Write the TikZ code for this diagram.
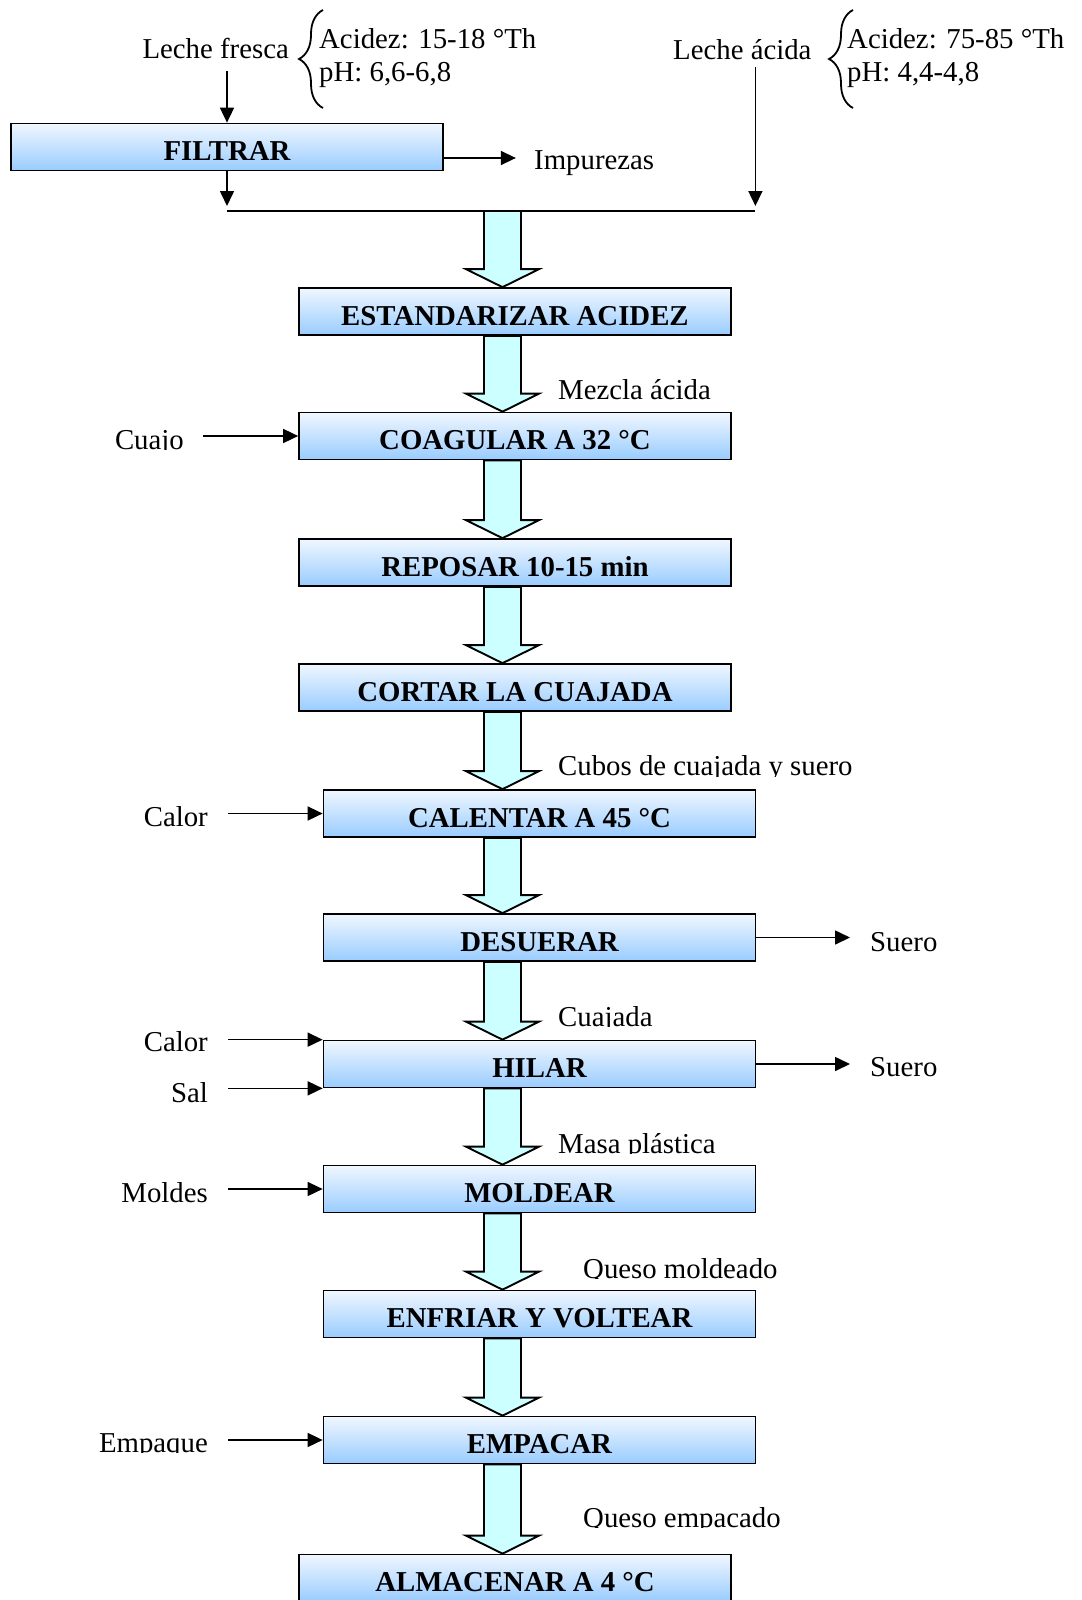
\documentclass[tikz,border=0pt]{standalone}
\usepackage{fontspec}
\setmainfont{Liberation Serif}
\usetikzlibrary{arrows.meta,calc,decorations.pathreplacing}
\definecolor{boxtop}{RGB}{240,247,255}
\definecolor{boxbot}{RGB}{153,204,255}
\definecolor{arrfill}{RGB}{204,255,255}
\newcommand\blockarr[2]{%
  \draw[barrow] let \p1=(#1), \p2=(#2.north) in
    (484pt,\y1) -- (484pt,\y2+18pt) -- (466pt,\y2+18pt) -- (502.5pt,\y2) --
    (539pt,\y2+18pt) -- (521pt,\y2+18pt) -- (521pt,\y1) -- cycle;}
% label whose lower part is cut off just below the baseline
\newcommand\cutlbl[5]{%
  \begin{scope}
    \clip (#3-300,#4-40) rectangle (#3+400,#4+10.5);
    \node[lbl, anchor=#2] (#1) at (#3,#4) {#5};
  \end{scope}}
\begin{document}
\begin{tikzpicture}[x=1pt,y=-1pt,
  every node/.style={font=\fontsize{28.8}{33}\selectfont},
  proc/.style={draw=black, line width=1.7pt, minimum width=432pt, minimum height=47pt,
    inner sep=0pt, text height=27pt, text depth=0pt, top color=boxtop, bottom color=boxbot,
    font=\fontsize{28.8}{33}\selectfont\bfseries},
  lbl/.style={inner sep=0pt, text height=23pt, text depth=3pt},
  arr/.style={line width=1.6pt, -{Triangle[length=15pt,width=14pt]}},
  ln/.style={line width=1.6pt},
  barrow/.style={draw=black, line width=1.9pt, fill=arrfill, line join=miter},
  brc/.style={line width=1.8pt, decorate, decoration={brace, amplitude=24pt}}
]
\useasboundingbox (0,0) rectangle (1081,1600);

% process boxes
\node[proc] (filtrar)  at (227,147)    {FILTRAR};
\node[proc] (estand)   at (515,311.5)  {ESTANDARIZAR ACIDEZ};
\node[proc] (coag)     at (515,436)    {COAGULAR A 32 °C};
\node[proc] (repo)     at (515,562.5)  {REPOSAR 10-15 min};
\node[proc] (cortar)   at (515,687.5)  {CORTAR LA CUAJADA};
\node[proc] (calentar) at (539.5,813.5) {CALENTAR A 45 °C};
\node[proc] (desuerar) at (539.5,937.5) {DESUERAR};
\node[proc] (hilar)    at (539.5,1064) {HILAR};
\node[proc] (moldear)  at (539.5,1189) {MOLDEAR};
\node[proc] (enfriar)  at (539.5,1314) {ENFRIAR Y VOLTEAR};
\node[proc] (empacar)  at (539.5,1440) {EMPACAR};
\node[proc] (almac)    at (515,1578)   {ALMACENAR A 4 °C};

% top inputs
\node[lbl, anchor=east] (lf) at (289,49) {Leche fresca};
\node[lbl, anchor=west] (ac1) at (319,39) {Acidez: 15-18 °Th};
\node[lbl, anchor=west] (ph1) at (319,71.5) {pH: 6,6-6,8};
\draw[brc] (323,108) -- (323,10);
\node[lbl, anchor=west] (la) at (673,50) {Leche ácida};
\node[lbl, anchor=west] (ac2) at (847,39) {Acidez: 75-85 °Th};
\node[lbl, anchor=west] (ph2) at (847,71.5) {pH: 4,4-4,8};
\draw[brc] (853,108) -- (853,10);

\coordinate (jl) at (227,211);
\coordinate (jr) at (755.4,211);
\coordinate (jc) at (502.5,211);
\draw[ln] (jl) -- (jr);
\draw[arr] ([yshift=-9pt]lf.south -| filtrar.north) -- (filtrar.north);
\draw[arr] (filtrar.south) -- ([yshift=5pt]jl);
\draw[arr] ([yshift=-4pt]la.south -| jr) -- ([yshift=5pt]jr);

\node[lbl, anchor=west] (imp) at (534,159) {Impurezas};
\draw[arr] ([yshift=-11pt]filtrar.east) -- ++(72,0);

% block arrows
\blockarr{jc}{estand}
\blockarr{estand.south}{coag}
\blockarr{coag.south}{repo}
\blockarr{repo.south}{cortar}
\blockarr{cortar.south}{calentar}
\blockarr{calentar.south}{desuerar}
\blockarr{desuerar.south}{hilar}
\blockarr{hilar.south}{moldear}
\blockarr{moldear.south}{enfriar}
\blockarr{enfriar.south}{empacar}
\blockarr{empacar.south}{almac}

% flow labels
\node[lbl, anchor=west] (mez) at (558,389) {Mezcla ácida};
\cutlbl{cub}{west}{558}{765.5}{Cubos de cuajada y suero}
\cutlbl{cuaj}{west}{558}{1016}{Cuajada}
\cutlbl{masa}{west}{558}{1143}{Masa plástica}
\cutlbl{qmol}{west}{583}{1268}{Queso moldeado}
\cutlbl{qemp}{west}{583}{1517}{Queso empacado}

% side inputs
\cutlbl{cuajo}{east}{184}{439}{Cuajo}
\draw[arr] ([xshift=19pt]cuajo.east |- coag.west) -- (coag.west);
\node[lbl, anchor=east] (calor1) at (208,816) {Calor};
\draw[arr] ([xshift=20pt]calor1.east |- calentar.west) -- (calentar.west);
\node[lbl, anchor=east] (calor2) at (208,1041) {Calor};
\draw[arr] ([xshift=20pt]calor2.east |- hilar.north west) -- (hilar.north west);
\node[lbl, anchor=east] (sal) at (208,1092) {Sal};
\draw[arr] ([xshift=20pt]sal.east |- hilar.south west) -- (hilar.south west);
\node[lbl, anchor=east] (moldes) at (208,1192) {Moldes};
\draw[arr] ([xshift=20pt]moldes.east |- moldear.west) -- (moldear.west);
\cutlbl{empq}{east}{208}{1442}{Empaque}
\draw[arr] ([xshift=20pt]empq.east |- empacar.west) -- (empacar.west);

% outputs
\node[lbl, anchor=west] (suero1) at (870,941) {Suero};
\draw[arr] (desuerar.east) -- ([xshift=-20pt]suero1.west |- desuerar.east);
\node[lbl, anchor=west] (suero2) at (870,1066) {Suero};
\draw[arr] (hilar.east) -- ([xshift=-20pt]suero2.west |- hilar.east);
\end{tikzpicture}
\end{document}
